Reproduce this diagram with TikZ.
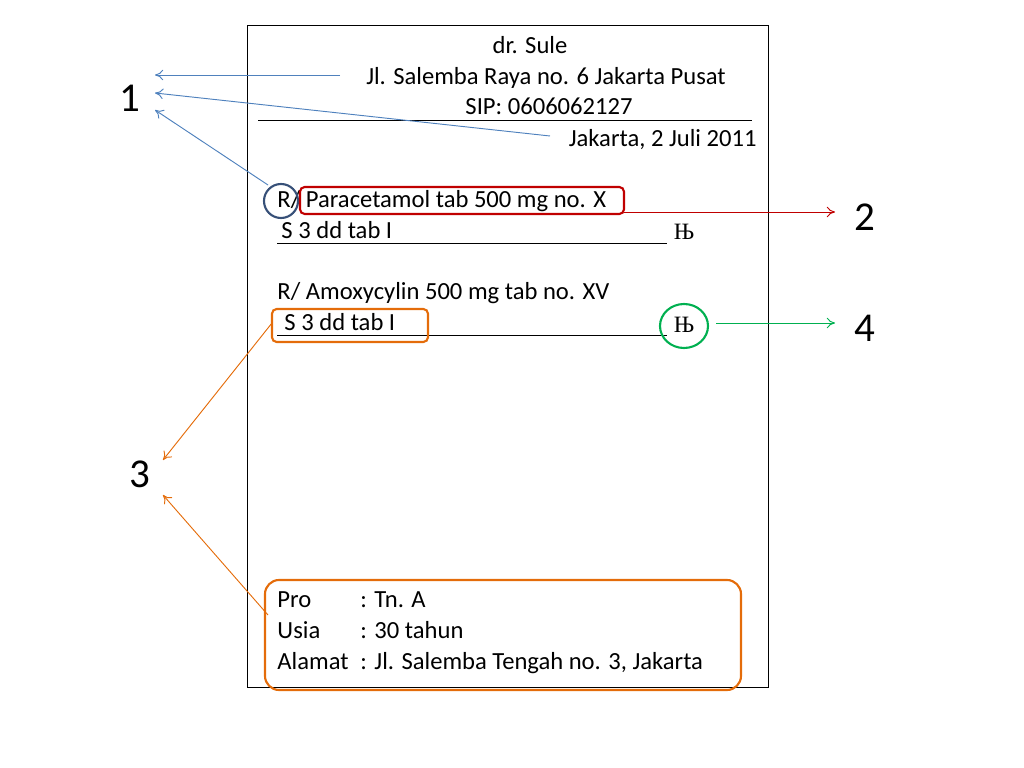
\documentclass[tikz,border=0pt]{standalone}
\usepackage{fontspec}
\setmainfont{Carlito}
\newfontfamily\cyr{Liberation Serif}
\usepackage{xcolor}
\usetikzlibrary{positioning,arrows.meta}
\definecolor{blueln}{RGB}{79,129,189}
\definecolor{redln}{RGB}{192,0,0}
\definecolor{orgln}{RGB}{228,108,10}
\definecolor{grnln}{RGB}{0,176,80}
\definecolor{cblue}{RGB}{55,80,120}
\tikzset{
  txt/.style={inner sep=0pt,text height=1.6ex,text depth=0.4ex,font=\fontsize{21}{25}\selectfont},
  num/.style={inner sep=0pt,font=\fontsize{35}{40}\selectfont},
  arr/.style={-{To[length=7pt,width=9pt]}}
}
\begin{document}
\begin{tikzpicture}[x=0.03cm,y=-0.03cm,line width=0.8pt]
\useasboundingbox (0,0) rectangle (1024,768);
\draw[line width=0.6pt] (247,25) rectangle (768,687);
% header
\node[txt] (doc) at (530,50) {dr. Sule};
\node[txt] (addr) at (546,81) {Jl. Salemba Raya no. 6 Jakarta Pusat};
\node[txt] (sip) at (549,111) {SIP: 0606062127};
\draw (258,120) -- (752,120);
\node[txt,anchor=east] (date) at (757,143) {Jakarta, 2 Juli 2011};
% first recipe
\node[txt,anchor=west] (r1) at (277,204) {R/ Paracetamol tab 500 mg no. X};
\node[txt,anchor=west] (s1) at (281,235) {S 3 dd tab I};
\draw (277,243) -- (667,243);
\node[txt,font=\cyr\fontsize{20}{24}\selectfont] (p1) at (684,236) {Њ};
% second recipe
\node[txt,anchor=west] (r2) at (277,296) {R/ Amoxycylin 500 mg tab no. XV};
\node[txt,anchor=west] (s2) at (284,327) {S 3 dd tab I};
\draw (277,335) -- (667,335);
\node[txt,font=\cyr\fontsize{20}{24}\selectfont] (p2) at (684,329) {Њ};
% patient
\node[txt,anchor=west] (pro) at (277,604) {Pro};
\node[txt,anchor=west] (usia) at (277,635) {Usia};
\node[txt,anchor=west] (alamat) at (277,666) {Alamat};
\node[txt,anchor=west] at (360,604) {: Tn. A};
\node[txt,anchor=west] at (360,635) {: 30 tahun};
\node[txt,anchor=west] at (360,666) {: Jl. Salemba Tengah no. 3, Jakarta};
% marks
\draw[cblue,line width=1.8pt] (281,201) circle[radius=17];
\draw[redln,line width=1.8pt,rounded corners=4pt] (300,187) rectangle (624,214);
\draw[orgln,line width=1.8pt,rounded corners=4pt] (272,309) rectangle (428,342);
\draw[grnln,line width=1.8pt] (684,326) ellipse[x radius=24,y radius=22];
\draw[orgln,line width=1.8pt,rounded corners=12pt] (265,580) rectangle (741,690);
% numbers
\node[num] (n1) at (130,98) {1};
\node[num] (n2) at (865,217) {2};
\node[num] (n3) at (140,474) {3};
\node[num] (n4) at (865,328) {4};
% arrows
\coordinate (a1) at (155,75);
\coordinate (a2) at (155,93);
\coordinate (a3) at (155,110);
\draw[blueln,arr] (340,75) -- (a1);
\draw[blueln,arr] (550,136) -- (a2);
\draw[blueln,arr] (268,185) -- (a3);
\draw[redln,arr] (624,212) -- (835,212);
\draw[grnln,arr] (716,323) -- (835,323);
\coordinate (b1) at (163,460);
\coordinate (b2) at (163,495);
\draw[orgln,arr] (272,323) -- (b1);
\draw[orgln,arr] (268,615) -- (b2);
\end{tikzpicture}
\end{document}
